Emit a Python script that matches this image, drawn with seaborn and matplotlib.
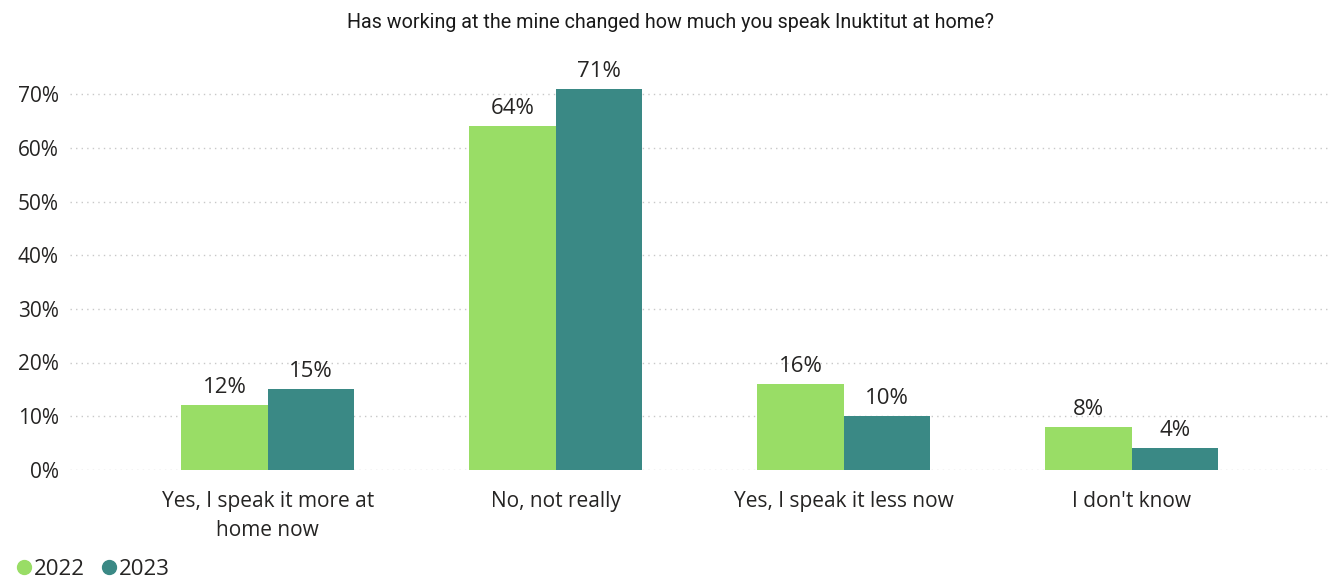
import pandas as pd
import matplotlib
matplotlib.use("Agg")
import matplotlib.pyplot as plt
import seaborn as sns
from matplotlib.lines import Line2D
from matplotlib.ticker import PercentFormatter

# Data
categories = ["Yes, I speak it more at\nhome now", "No, not really",
              "Yes, I speak it less now", "I don't know"]
years = ["2022", "2023"]
values_2022 = [12, 64, 16, 8]
values_2023 = [15, 71, 10, 4]
colors = {"2022": "#99DD66", "2023": "#3A8985"}

df = pd.DataFrame({
    "category": categories * 2,
    "year": ["2022"] * 4 + ["2023"] * 4,
    "pct": values_2022 + values_2023,
})

sns.set_theme(style="white")
plt.rcParams["font.family"] = ["Open Sans", "DejaVu Sans"]

fig = plt.figure(figsize=(13.41, 5.8), dpi=100)
ax = fig.add_axes([0.052, 0.19, 0.94, 0.703])

sns.barplot(data=df, x="category", y="pct", hue="year", order=categories,
            hue_order=years, palette=colors, width=0.6, saturation=1,
            linewidth=0, legend=False, ax=ax)

for container in ax.containers:
    ax.bar_label(container, labels=[f"{v:.0f}%" for v in container.datavalues],
                 padding=5, fontsize=16, color="#252423")

ax.set_ylim(0, 76)
ax.set_xlim(-0.688, 3.69)
ax.set_yticks(range(0, 80, 10))
ax.yaxis.set_major_formatter(PercentFormatter(decimals=0))
ax.grid(axis="y", linestyle=(0, (1, 3)), color="#c8c8c8", linewidth=1)
ax.set_axisbelow(True)
sns.despine(ax=ax, left=True, bottom=True)
ax.set_xlabel("")
ax.set_ylabel("")
ax.tick_params(axis="both", length=0, labelsize=15, colors="#252423")
ax.tick_params(axis="y", pad=8)
ax.tick_params(axis="x", pad=15)
for lbl in ax.get_xticklabels():
    lbl.set_linespacing(1.5)

fig.text(0.5, 0.962, "Has working at the mine changed how much you speak Inuktitut at home?",
         ha="center", va="center", fontsize=14.2, color="#1a1a1a",
         family=["Roboto", "DejaVu Sans"])

handles = [Line2D([0], [0], marker="o", linestyle="", markersize=10,
                  markerfacecolor=colors[y], markeredgecolor=colors[y]) for y in years]
fig.legend(handles, years, loc="lower left", bbox_to_anchor=(-0.006, -0.026), ncol=2,
           frameon=False, fontsize=16, handletextpad=-0.3, columnspacing=0.3,
           borderpad=0.2, handlelength=1.5, labelcolor="#252423")

fig.savefig("out.png", dpi=100)
